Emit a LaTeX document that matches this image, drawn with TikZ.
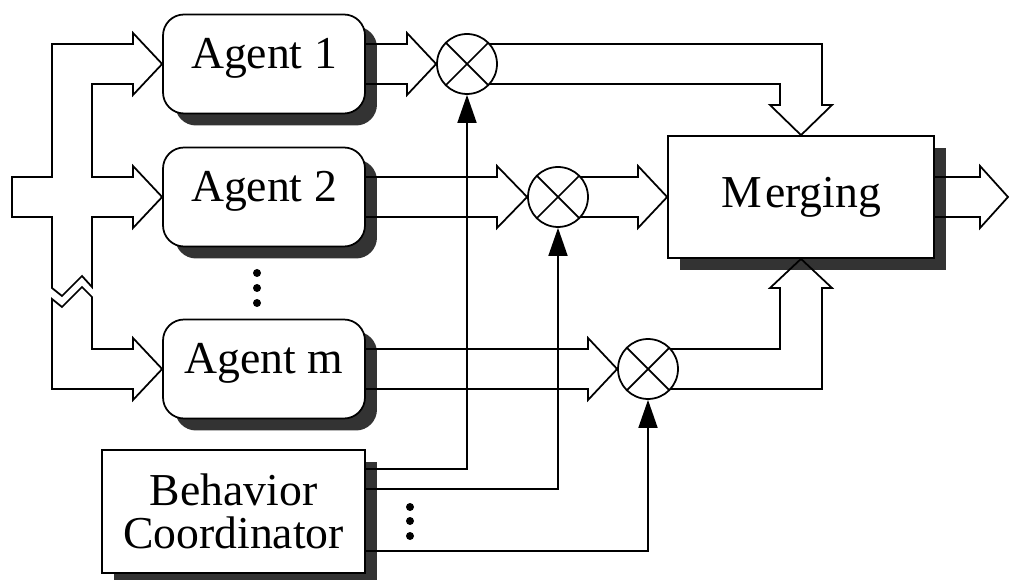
\documentclass[tikz,border=0pt]{standalone}
\usepackage{fontspec}
\setmainfont{Liberation Serif}
\usetikzlibrary{shadows,arrows.meta,calc,positioning}
\newcommand{\lblsize}{\fontsize{26}{24.4}\selectfont}
\newcommand{\agentlbl}[1]{\raisebox{-.1cm}[0pt][0pt]{#1}}

\begin{document}
\begin{tikzpicture}
[x=0.02cm,y=-0.02cm,
dshadow/.style={drop shadow={shadow xshift=.24cm,shadow yshift=-.24cm,opacity=1,fill=black!80}},
agent/.style={draw,line width=1pt,rounded corners=.42cm,fill=white,minimum width=4.04cm,minimum height=1.98cm,font=\lblsize,dshadow},
block/.style={draw,line width=1pt,fill=white,font=\lblsize,align=center,dshadow},
mult/.style={circle,draw,line width=1pt,fill=white,minimum size=1.2cm,inner sep=0pt,
  path picture={\draw[line width=1pt] (path picture bounding box.south west) -- (path picture bounding box.north east)
  (path picture bounding box.north west) -- (path picture bounding box.south east);}},
fat/.style={line width=1pt,line join=miter},
ctrl/.style={line width=1pt,-{Triangle[length=.56cm,width=.38cm]}}]
\useasboundingbox (0,0) rectangle (1010,580);

% agents, merging and coordinator
\node[agent] (a1) at (264,64) {\agentlbl{Agent 1}};
\node[agent] (a2) at (264,197) {\agentlbl{Agent 2}};
\node[agent] (am) at (264,369) {\agentlbl{Agent m}};
\node[block,minimum width=5.32cm,minimum height=2.44cm] (mg) at (801,197) {\raisebox{.12cm}{M\kern2pt erging}};
\node[block,minimum width=5.26cm,minimum height=2.46cm] (bc) at (233.5,511.5) {Behavior\\Coordinator};

% multipliers
\node[mult] (m1) at (467,64) {};
\node[mult] (m2) at (558,197) {};
\node[mult] (m3) at (648,369) {};

% input bus
\draw[fat] (12,177) -- (52,177) -- (52,44) -- (133,44) -- (133,33) -- (a1.west) -- (133,95) -- (133,84)
  -- (92,84) -- (92,177) -- (133,177) -- (133,166) -- (a2.west) -- (133,228) -- (133,217)
  -- (92,217) -- (92,287) -- (82,276) -- (62,296) -- (52,288) -- (52,217) -- (12,217) -- cycle;
\draw[fat] (52,299) -- (62,307) -- (82,287) -- (92,297) -- (92,349) -- (133,349) -- (133,338)
  -- (am.west) -- (133,400) -- (133,389) -- (52,389) -- cycle;
\foreach \y in {273,288,303} \fill (257,\y) circle[radius=.08cm];

% agents to multipliers
\draw[fat] (365,44) -- (407,44) -- (407,33) -- (m1.west) -- (407,95) -- (407,84) -- (365,84);
\draw[fat] (365,177) -- (497,177) -- (497,166) -- (m2.west) -- (497,228) -- (497,217) -- (365,217);
\draw[fat] (365,349) -- (588,349) -- (588,338) -- (m3.west) -- (588,400) -- (588,389) -- (365,389);

% multipliers to merging
\draw[fat] (489,44) -- (822,44) -- (822,105) -- (832,105) -- (mg.north) -- (770,105) -- (780,105) -- (780,84) -- (489,84);
\draw[fat] (580,177) -- (638,177) -- (638,166) -- (mg.west) -- (638,228) -- (638,217) -- (580,217);
\draw[fat] (670,349) -- (780,349) -- (780,288) -- (770,288) -- (mg.south) -- (832,288) -- (822,288) -- (822,389) -- (670,389);
\draw[fat] (mg.east |- 0,177) -- (980,177) -- (980,166) -- (1008,197) -- (980,228) -- (980,217) -- (mg.east |- 0,217);

% coordinator to multipliers
\draw[ctrl] ([yshift=-.4cm]bc.north east) -| (m1);
\draw[ctrl] ([yshift=-.8cm]bc.north east) -| (m2);
\draw[ctrl] ([yshift=-2.04cm]bc.north east) -| (m3);
\foreach \y in {507,521,536} \fill (410,\y) circle[radius=.08cm];
\end{tikzpicture}
\end{document}
